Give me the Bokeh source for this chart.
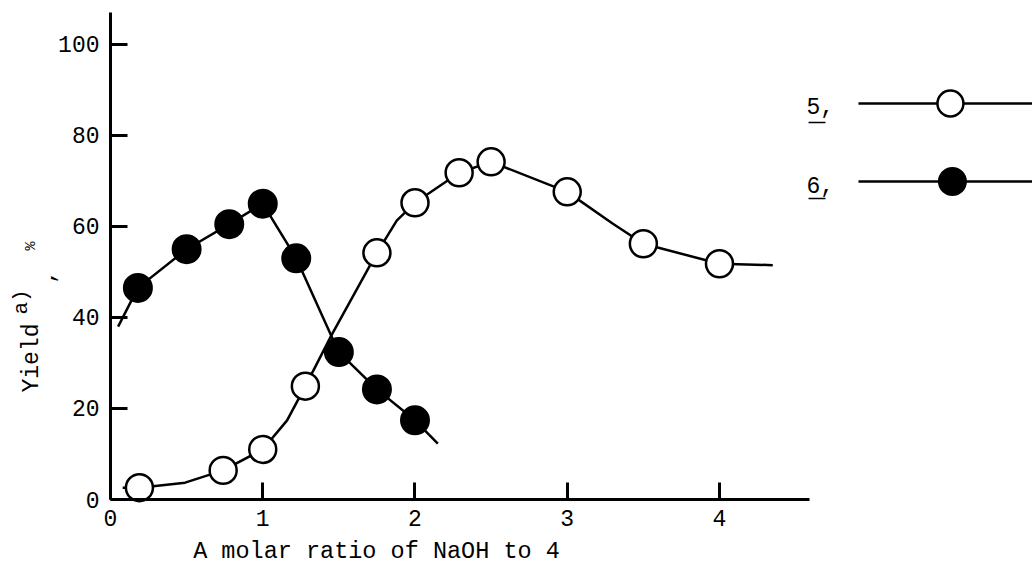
import math
from bokeh.plotting import figure
from bokeh.models import Label, FixedTicker, Range1d
from bokeh.embed import file_html
from bokeh.resources import INLINE

# ---- data ----
# compound 5 (open circles)
x5 = [0.19, 0.74, 1.0, 1.28, 1.75, 2.0, 2.29, 2.5, 3.0, 3.5, 4.0]
y5 = [2.6, 6.4, 11.0, 24.9, 54.2, 65.2, 71.8, 74.2, 67.6, 56.2, 51.8]
# compound 6 (filled circles)
x6 = [0.18, 0.5, 0.78, 1.0, 1.22, 1.5, 1.75, 2.0]
y6 = [46.5, 55.0, 60.5, 65.0, 53.0, 32.4, 24.2, 17.4]
# hand-drawn curves
cx5 = [0.08, 0.19, 0.49, 0.74, 1.0, 1.16, 1.28, 1.45, 1.75, 1.88, 2.0, 2.29, 2.5, 3.0, 3.3, 3.5, 4.0, 4.35]
cy5 = [2.6, 2.6, 3.7, 6.4, 11.0, 17.4, 24.9, 36.0, 54.2, 61.3, 65.2, 71.8, 74.2, 67.6, 60.6, 56.2, 51.8, 51.5]
cx6 = [0.05, 0.18, 0.5, 0.78, 1.0, 1.22, 1.45, 1.5, 1.75, 2.0, 2.15]
cy6 = [38.0, 46.5, 55.0, 60.5, 65.0, 53.0, 36.0, 32.4, 24.2, 17.4, 12.3]

x_ticks = [0, 1, 2, 3, 4]
y_ticks = [0, 20, 40, 60, 80, 100]
x_title = "A molar ratio of NaOH to 4"
series_labels = ["5,", "6,"]

FONT = "Liberation Mono"
INK = "black"

p = figure(width=1032, height=566, output_backend="svg", toolbar_location=None,
           x_range=Range1d(-0.7225, 6.056), y_range=Range1d(-14.72, 109.65),
           min_border=0)
p.outline_line_color = None
p.grid.visible = False
p.background_fill_color = "white"
p.border_fill_color = "white"

for ax in (p.xaxis[0], p.yaxis[0]):
    ax.fixed_location = 0
    ax.axis_line_width = 3
    ax.axis_line_color = INK
    ax.major_tick_line_width = 3
    ax.major_tick_line_color = INK
    ax.major_tick_in = 17
    ax.major_tick_out = 0
    ax.minor_tick_in = 0
    ax.minor_tick_out = 0
    ax.minor_tick_line_color = None
    ax.major_label_text_font = FONT
    ax.major_label_text_font_size = "23px"
    ax.major_label_text_color = INK

p.xaxis.ticker = FixedTicker(ticks=x_ticks)
p.yaxis.ticker = FixedTicker(ticks=y_ticks)
p.xaxis.bounds = (0, 4.59)
p.yaxis.bounds = (0, 107)
p.xaxis.major_label_standoff = 10
p.yaxis.major_label_standoff = 11

# curves
p.line(cx5, cy5, line_width=2.5, line_color=INK)
p.line(cx6, cy6, line_width=2.5, line_color=INK)
p.scatter(x6, y6, marker="circle", size=28, fill_color=INK, line_color=INK, line_width=2)
p.scatter(x5, y5, marker="circle", size=27, fill_color="white", line_color=INK, line_width=2.5)

# ---- x-axis title ----
p.add_layout(Label(x=1.747, y=-11.43, text=x_title, text_font=FONT,
                   text_font_size="23.5px", text_color=INK,
                   text_baseline="alphabetic", text_align="center"))

# ---- legend (layout positions) ----
leg_line_x0, leg_line_x1 = 4.913, 6.056
leg_y = [87.01, 69.87]
leg_mark_x = [5.517, 5.530]
p.segment(x0=[leg_line_x0] * 2, y0=leg_y, x1=[leg_line_x1] * 2, y1=leg_y,
          line_width=2.5, line_color=INK)
p.scatter(leg_mark_x[:1], leg_y[:1], marker="circle", size=26, fill_color="white",
          line_color=INK, line_width=2.5)
p.scatter(leg_mark_x[1:], leg_y[1:], marker="circle", size=27, fill_color=INK,
          line_color=INK, line_width=2)
leg_text_y = [86.57, 69.0]
leg_ul_y = [82.84, 66.14]
for t, ty in zip(series_labels, leg_text_y):
    p.add_layout(Label(x=4.571, y=ty, text=t, text_font=FONT, text_font_size="23px",
                       text_color=INK, text_baseline="alphabetic", text_align="left"))
p.segment(x0=[4.585] * 2, y0=leg_ul_y, x1=[4.696] * 2, y1=leg_ul_y,
          line_width=1.5, line_color=INK)

# ---- y-axis title: Yield^a), % ----
rot = math.pi / 2
p.add_layout(Label(x=-0.5125, y=23.51, text="Yield", angle=rot, text_font=FONT,
                   text_font_size="23px", text_color=INK,
                   text_baseline="alphabetic", text_align="left"))
p.add_layout(Label(x=-0.585, y=40.65, text="a)", angle=rot, text_font=FONT,
                   text_font_size="21px", text_color=INK,
                   text_baseline="alphabetic", text_align="left"))
p.add_layout(Label(x=-0.42, y=47.46, text=",", angle=rot, text_font=FONT,
                   text_font_size="22px", text_color=INK,
                   text_baseline="alphabetic", text_align="left"))
p.add_layout(Label(x=-0.519, y=54.71, text="%", angle=rot, text_font=FONT,
                   text_font_size="15px", text_color=INK,
                   text_baseline="alphabetic", text_align="left"))

open("out.html", "w").write(file_html(p, INLINE))
